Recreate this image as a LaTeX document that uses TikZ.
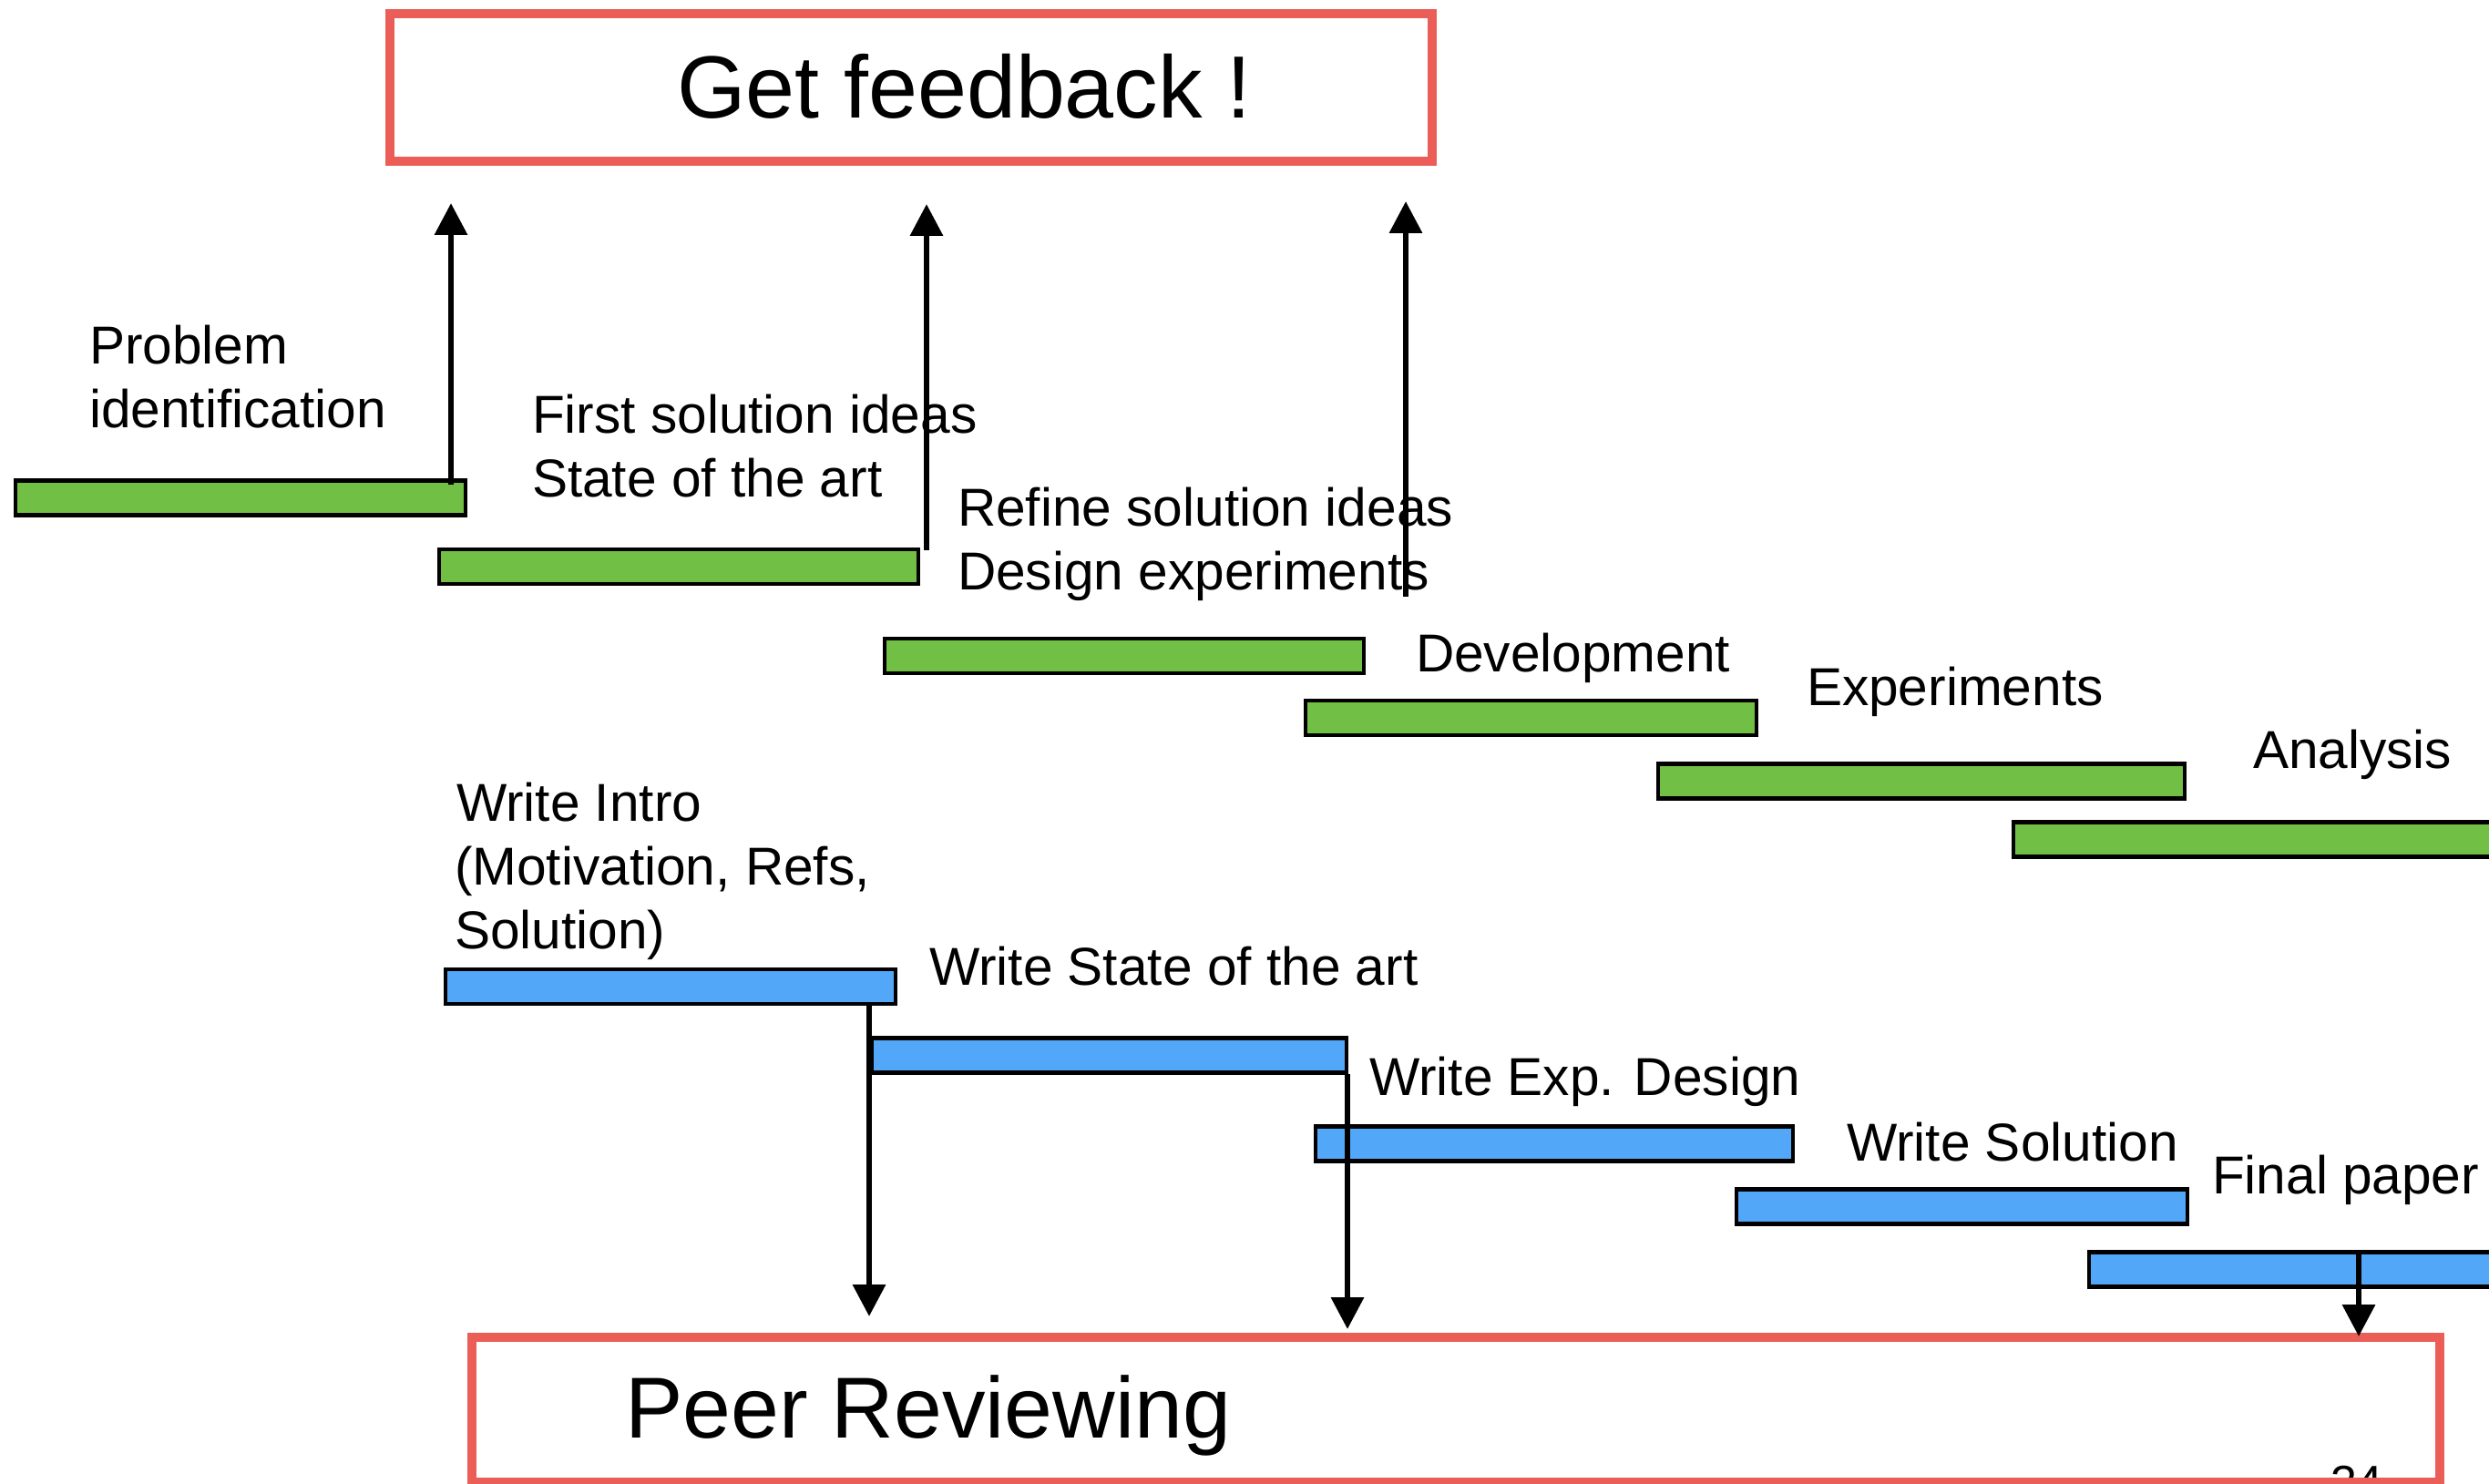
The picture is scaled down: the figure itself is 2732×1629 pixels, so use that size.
\documentclass[tikz,border=0pt]{standalone}
\usepackage{fontspec}
\setmainfont{Liberation Sans}
\usetikzlibrary{arrows.meta}
\definecolor{boxred}{RGB}{235,94,87}
\definecolor{bargreen}{RGB}{113,191,68}
\definecolor{barblue}{RGB}{82,167,249}
\tikzset{
  frame/.style={draw=boxred,line width=10pt,inner sep=0pt,outer sep=0pt},
  gbar/.style={draw=black,fill=bargreen,line width=4.5pt,inner sep=0pt,outer sep=0pt,minimum height=38pt},
  bbar/.style={draw=black,fill=barblue,line width=4.5pt,inner sep=0pt,outer sep=0pt,minimum height=38pt},
  lbl/.style={anchor=base west,inner sep=0pt,outer sep=0pt,font=\fontsize{58.6}{70}\selectfont},
  big/.style={anchor=base west,inner sep=0pt,outer sep=0pt,font=\fontsize{95}{110}\selectfont},
  pnum/.style={anchor=base west,inner sep=0pt,outer sep=0pt,font=\fontsize{52}{60}\selectfont},
  conn/.style={line width=6.5pt,-{Triangle[width=35pt,length=35pt]}}
}
\begin{document}
\begin{tikzpicture}[x=1pt,y=-1pt]
\clip (0,0) rectangle (2732,1629);
\fill[white] (0,0) rectangle (2732,1629);

% frames
\node[frame,minimum width=1144pt,minimum height=162pt] (fb) at (1000,96) {};
\node[big,font=\fontsize{97}{110}\selectfont] (fbt) at (743,130) {Get feedback !};

\node[pnum] (pn) at (2558,1645) {34};
\node[frame,minimum width=2160pt,minimum height=159pt] (pr) at (1598,1547.5) {};
\node[big] (prt) at (686,1578) {Peer Reviewing};

% green bars
\node[gbar,minimum width=494pt] (g1) at (264,546.5) {};
\node[gbar,minimum width=526pt] (g2) at (745,622) {};
\node[gbar,minimum width=526pt] (g3) at (1234,720) {};
\node[gbar,minimum width=495pt] (g4) at (1680.5,788) {};
\node[gbar,minimum width=578pt] (g5) at (2109,857.5) {};
\node[gbar,minimum width=550pt] (g6) at (2485,921.5) {};

% blue bars
\node[bbar,minimum width=494pt] (b1) at (736,1083) {};
\node[bbar,minimum width=521pt] (b2) at (1217.5,1158.5) {};
\node[bbar,minimum width=524pt] (b3) at (1706,1255.5) {};
\node[bbar,minimum width=495pt] (b4) at (2153.5,1324.5) {};
\node[bbar,minimum width=466pt] (b5) at (2526,1393.5) {};

% labels
\node[lbl] (l1a) at (98,399) {Problem};
\node[lbl] (l1b) at (98,469) {identification};
\node[lbl] (l2a) at (584,475) {First solution ideas};
\node[lbl] (l2b) at (584,545) {State of the art};
\node[lbl] (l3a) at (1051,577) {Refine solution ideas};
\node[lbl] (l3b) at (1051,647) {Design experiments};
\node[lbl] (l4) at (1554,737) {Development};
\node[lbl] (l5) at (1983,774) {Experiments};
\node[lbl] (l6) at (2473,843) {Analysis};
\node[lbl] (w1a) at (501,901) {Write Intro};
\node[lbl] (w1b) at (499,971) {(Motivation, Refs,};
\node[lbl] (w1c) at (499,1041) {Solution)};
\node[lbl] (w2) at (1020,1081) {Write State of the art};
\node[lbl] (w3) at (1503,1202) {Write Exp. Design};
\node[lbl] (w4) at (2027,1274) {Write Solution};
\node[lbl] (w5) at (2428,1310) {Final paper};

% connectors
\coordinate (u1s) at (495,532);  \coordinate (u1e) at (495,223);
\coordinate (u2s) at (1017,604); \coordinate (u2e) at (1017,224);
\coordinate (u3s) at (1543,655); \coordinate (u3e) at (1543,221);
\coordinate (d1s) at (954,1104); \coordinate (d1e) at (954,1445);
\coordinate (d2s) at (1479,1179); \coordinate (d2e) at (1479,1459);
\coordinate (d3s) at (2589,1373); \coordinate (d3e) at (2589,1467);
\draw[conn] (u1s) -- (u1e);
\draw[conn] (u2s) -- (u2e);
\draw[conn] (u3s) -- (u3e);
\draw[conn] (d1s) -- (d1e);
\draw[conn] (d2s) -- (d2e);
\draw[conn] (d3s) -- (d3e);
\end{tikzpicture}
\end{document}
